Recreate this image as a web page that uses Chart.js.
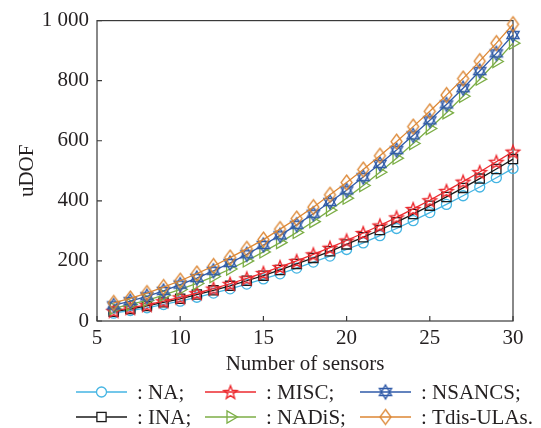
<!DOCTYPE html>
<html>
<head>
<meta charset="utf-8">
<script src="https://cdn.jsdelivr.net/npm/chart.js@4.4.1/dist/chart.umd.min.js"></script>
<style>
  html, body { margin: 0; padding: 0; background: #fff; }
  canvas { display: block; }
</style>
</head>
<body>
<canvas id="chart" width="541" height="428"></canvas>
<script>
// number of sensors on the x axis
const sensors = [6, 7, 8, 9, 10, 11, 12, 13, 14, 15, 16, 17, 18, 19, 20, 21, 22, 23, 24, 25, 26, 27, 28, 29, 30];

// uDOF values
const naValues = [26, 35, 44, 55, 66, 79, 93, 107, 123, 140, 157, 176, 196, 216, 238, 260, 284, 308, 334, 361, 388, 417, 446, 477, 508];
const inaValues = [31, 40, 50, 62, 74, 88, 102, 117, 134, 151, 170, 190, 210, 232, 255, 279, 303, 329, 356, 384, 413, 443, 474, 506, 539];
const miscValues = [34, 44, 54, 66, 79, 93, 108, 124, 142, 160, 180, 200, 222, 244, 268, 293, 318, 345, 373, 402, 433, 464, 496, 530, 564];
const nadisValues = [42, 55, 69, 86, 105, 125, 148, 173, 200, 230, 261, 295, 331, 369, 409, 451, 495, 542, 591, 641, 693, 748, 805, 864, 925];
const nsancsValues = [52, 66, 82, 100, 121, 143, 167, 193, 222, 253, 285, 320, 357, 396, 435, 479, 523, 569, 618, 668, 721, 775, 832, 891, 952];
const tdisValues = [60, 75, 93, 113, 134, 158, 183, 211, 240, 271, 306, 341, 379, 420, 461, 504, 550, 597, 647, 698, 752, 807, 865, 925, 988];

const xTicks = [5, 10, 15, 20, 25, 30];
const yTicks = [0, 200, 400, 600, 800, 1000];

const FONT = '"Liberation Serif", "Times New Roman", serif';
const TEXT_COLOR = "#231f20";
const AXIS_COLOR = "#3a3a3a";

// marker images for the shapes Chart.js does not have
function makeStar5(color, r) {
    const size = Math.ceil(2 * r + 4);
    const c = document.createElement("canvas");
    c.width = size; c.height = size;
    const ctx = c.getContext("2d");
    const cx = size / 2, cy = size / 2 + r * 0.1;
    ctx.beginPath();
    for (let i = 0; i < 10; i++) {
        const rr = i % 2 ? r * 0.42 : r;
        const a = -Math.PI / 2 + i * Math.PI / 5;
        ctx.lineTo(cx + rr * Math.cos(a), cy + rr * Math.sin(a));
    }
    ctx.closePath();
    ctx.strokeStyle = color;
    ctx.lineWidth = 1.4;
    ctx.stroke();
    return c;
}

function makeHexagram(color, r) {
    const size = Math.ceil(2 * r + 4);
    const c = document.createElement("canvas");
    c.width = size; c.height = size;
    const ctx = c.getContext("2d");
    const cx = size / 2, cy = size / 2;
    ctx.strokeStyle = color;
    ctx.lineWidth = 1.4;
    [-Math.PI / 2, Math.PI / 2].forEach((start) => {
        ctx.beginPath();
        for (let i = 0; i < 3; i++) {
            const a = start + i * 2 * Math.PI / 3;
            ctx.lineTo(cx + r * Math.cos(a), cy + r * Math.sin(a));
        }
        ctx.closePath();
        ctx.stroke();
    });
    return c;
}

function makeDiamond(color, w, h) {
    const c = document.createElement("canvas");
    c.width = w + 4; c.height = h + 4;
    const ctx = c.getContext("2d");
    const cx = c.width / 2, cy = c.height / 2;
    ctx.beginPath();
    ctx.moveTo(cx, cy - h / 2);
    ctx.lineTo(cx + w / 2, cy);
    ctx.lineTo(cx, cy + h / 2);
    ctx.lineTo(cx - w / 2, cy);
    ctx.closePath();
    ctx.strokeStyle = color;
    ctx.lineWidth = 1.3;
    ctx.stroke();
    return c;
}

const colors = {
    na: "#45b5e3",
    ina: "#1a1a1a",
    misc: "#ec2a2f",
    nadis: "#7cae46",
    nsancs: "#2f5aa8",
    tdis: "#dc8633",
};

function series(label, data, color, pointStyle, radius, rotation) {
    return {
        label: label,
        data: data,
        borderColor: color,
        backgroundColor: "rgba(0,0,0,0)",
        borderWidth: 1.3,
        pointStyle: pointStyle,
        pointRadius: radius,
        pointRotation: rotation || 0,
        pointBorderColor: color,
        pointBackgroundColor: "rgba(0,0,0,0)",
        pointBorderWidth: 1.3,
        tension: 0,
        fill: false,
        clip: false,
    };
}

// first dataset is drawn on top
const datasets = [
    series("Tdis-ULAs", tdisValues, colors.tdis, makeDiamond(colors.tdis, 11, 15), 7),
    series("NSANCS", nsancsValues, colors.nsancs, makeHexagram(colors.nsancs, 7), 7),
    series("NADiS", nadisValues, colors.nadis, "triangle", 7, 90),
    series("MISC", miscValues, colors.misc, makeStar5(colors.misc, 7), 7),
    series("INA", inaValues, colors.ina, "rect", 6.5),
    series("NA", naValues, colors.na, "circle", 5),
];

// box, inward ticks and the two-row legend
const framePlugin = {
    id: "frame",
    beforeDatasetsDraw(chart) {
        const { ctx, chartArea: a, scales } = chart;
        ctx.save();
        ctx.strokeStyle = AXIS_COLOR;
        ctx.lineWidth = 1.2;
        ctx.strokeRect(a.left, a.top, a.right - a.left, a.bottom - a.top);
        ctx.beginPath();
        xTicks.forEach((v) => {
            const px = scales.x.getPixelForValue(v);
            ctx.moveTo(px, a.bottom);
            ctx.lineTo(px, a.bottom - 5);
        });
        yTicks.forEach((v) => {
            const py = scales.y.getPixelForValue(v);
            ctx.moveTo(a.left, py);
            ctx.lineTo(a.left + 5, py);
        });
        ctx.stroke();
        ctx.restore();
    },
    afterDraw(chart) {
        const ctx = chart.ctx;
        const byLabel = {};
        chart.data.datasets.forEach((ds) => { byLabel[ds.label] = ds; });
        const rows = [392, 417];
        const cols = [76, 205, 360];
        const layout = [
            ["NA", "MISC", "NSANCS"],
            ["INA", "NADiS", "Tdis-ULAs"],
        ];
        ctx.save();
        layout.forEach((row, ri) => {
            row.forEach((name, ci) => {
                const ds = byLabel[name];
                const y = rows[ri];
                const x0 = cols[ci];
                const x1 = x0 + 51;
                const xm = (x0 + x1) / 2;
                ctx.strokeStyle = ds.borderColor;
                ctx.lineWidth = 1.3;
                ctx.beginPath();
                ctx.moveTo(x0, y);
                ctx.lineTo(x1, y);
                ctx.stroke();
                drawMarker(ctx, ds, xm, y);
                ctx.fillStyle = TEXT_COLOR;
                ctx.font = "21px " + FONT;
                ctx.textAlign = "left";
                ctx.textBaseline = "middle";
                ctx.fillText(": " + name + (name === "Tdis-ULAs" ? "." : ";"), x1 + 10, y + 1);
            });
        });
        ctx.restore();
    },
};

function drawMarker(ctx, ds, x, y) {
    const style = ds.pointStyle;
    const r = ds.pointRadius;
    ctx.save();
    ctx.strokeStyle = ds.borderColor;
    ctx.lineWidth = 1.3;
    if (typeof style === "object") {
        ctx.drawImage(style, x - style.width / 2, y - style.height / 2);
    } else if (style === "circle") {
        ctx.fillStyle = "#fff";
        ctx.beginPath();
        ctx.arc(x, y, r, 0, Math.PI * 2);
        ctx.fill();
        ctx.stroke();
    } else if (style === "rect") {
        const s = Math.SQRT1_2 * r;
        ctx.fillStyle = "#fff";
        ctx.fillRect(x - s, y - s, 2 * s, 2 * s);
        ctx.strokeRect(x - s, y - s, 2 * s, 2 * s);
    } else if (style === "triangle") {
        ctx.beginPath();
        for (let i = 0; i < 3; i++) {
            const a = i * 2 * Math.PI / 3;
            ctx.lineTo(x + r * Math.cos(a), y + r * Math.sin(a));
        }
        ctx.closePath();
        ctx.stroke();
    }
    ctx.restore();
}

const ctx = document.getElementById("chart").getContext("2d");
new Chart(ctx, {
    type: "line",
    data: {
        datasets: datasets.map((ds) => ({
            ...ds,
            data: ds.data.map((v, i) => ({ x: sensors[i], y: v })),
        })),
    },
    options: {
        responsive: false,
        animation: false,
        devicePixelRatio: 1,
        layout: { padding: { left: 0, right: 28, top: 16, bottom: 51 } },
        plugins: {
            legend: { display: false },
            tooltip: { enabled: false },
        },
        scales: {
            x: {
                type: "linear",
                min: 5,
                max: 30,
                afterFit: (scale) => { scale.height = 56; },
                afterBuildTicks: (scale) => { scale.ticks = xTicks.map((v) => ({ value: v })); },
                grid: { display: false, drawTicks: false },
                border: { display: false },
                ticks: {
                    padding: 5,
                    color: TEXT_COLOR,
                    font: { family: FONT, size: 21 },
                },
                title: {
                    display: true,
                    text: "Number of sensors",
                    color: TEXT_COLOR,
                    font: { family: FONT, size: 21 },
                    padding: { top: 0, bottom: 0 },
                },
            },
            y: {
                type: "linear",
                min: 0,
                max: 1000,
                afterFit: (scale) => { scale.width = 97; },
                afterBuildTicks: (scale) => { scale.ticks = yTicks.map((v) => ({ value: v })); },
                grid: { display: false, drawTicks: false },
                border: { display: false },
                ticks: {
                    padding: 8,
                    color: TEXT_COLOR,
                    font: { family: FONT, size: 21 },
                    callback: (v) => (v === 1000 ? "1 000" : String(v)),
                },
                title: {
                    display: true,
                    text: "uDOF",
                    color: TEXT_COLOR,
                    font: { family: FONT, size: 21 },
                    padding: { top: 15, bottom: 0 },
                },
            },
        },
    },
    plugins: [framePlugin],
});
</script>
</body>
</html>
